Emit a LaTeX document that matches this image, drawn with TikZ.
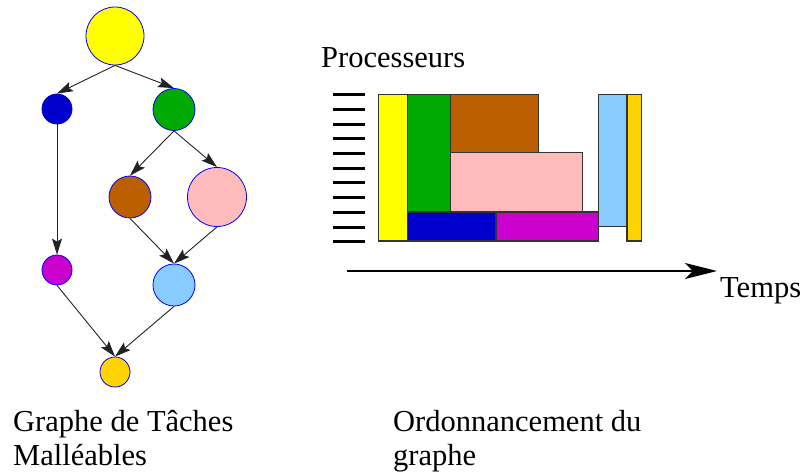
\documentclass[tikz,border=0pt]{standalone}
\usepackage{fontspec}
\setmainfont{Liberation Serif}
\usetikzlibrary{arrows.meta}
\definecolor{cYellow}{HTML}{FFFF00}
\definecolor{cBlue}{HTML}{0000CC}
\definecolor{cGreen}{HTML}{00AA00}
\definecolor{cBrown}{HTML}{BB5F00}
\definecolor{cPink}{HTML}{FFBBBB}
\definecolor{cMagenta}{HTML}{CC00CC}
\definecolor{cSky}{HTML}{88CCFF}
\definecolor{cGold}{HTML}{FFD300}
\definecolor{cEdge}{HTML}{222222}
\tikzset{
  task/.style={circle, draw=blue, line width=0.8pt, inner sep=0pt, minimum size=#1},
  dep/.style={draw=cEdge, line width=0.9pt,
    -{Stealth[length=16pt, width=10pt, inset=3pt]}},
  slot/.style={draw=black!80, line width=1.3pt},
  proc/.style={line width=3pt, black},
  axis/.style={line width=2.5pt, -{Stealth[length=32pt, width=16pt, inset=8pt]}},
  lbl/.style={font=\fontsize{30.5}{34}\selectfont, inner sep=0pt, anchor=base west, align=left}
}
\begin{document}
\begin{tikzpicture}[x=1pt, y=-1pt]
\useasboundingbox (0,0) rectangle (803,476);

% --- task graph ---
\node[task=58pt, fill=cYellow]  (ty) at (115,36)  {};
\node[task=30pt, fill=cBlue, draw=cBlue] (tb) at (57,109) {};
\node[task=42pt, fill=cGreen]   (tg) at (174,109.5) {};
\node[task=42pt, fill=cBrown]   (tr) at (130,197) {};
\node[task=59pt, fill=cPink]    (tp) at (217,197) {};
\node[task=30pt, fill=cMagenta] (tm) at (57,270) {};
\node[task=42pt, fill=cSky]     (ts) at (174,285) {};
\node[task=30pt, fill=cGold]    (to) at (115,372) {};

\draw[dep] (ty.south) -- (tb.north);
\draw[dep] (ty.south) -- (tg.north);
\draw[dep] (tb.south) -- (tm.north);
\draw[dep] (tg.south) -- (tr.north);
\draw[dep] (tg.south) -- (tp.north);
\draw[dep] (tr.south) -- (ts.north);
\draw[dep] (tp.south) -- (ts.north);
\draw[dep] (tm.south) -- (to.north);
\draw[dep] (ts.south) -- (to.north);

% --- processor ticks ---
\foreach \i in {0,...,10}
  \draw[proc] (333,94.7+14.7*\i) -- (365,94.7+14.7*\i);

% --- schedule ---
\draw[slot, fill=cYellow]  (378.7,94.7) rectangle (407.3,241);
\draw[slot, fill=cGreen]   (407.3,94.7) rectangle (450.7,212);
\draw[slot, fill=cBrown]   (450.7,94.7) rectangle (538.7,152.3);
\draw[slot, fill=cPink]    (450.7,152.3) rectangle (582.3,212);
\draw[slot, fill=cBlue]    (407.3,212) rectangle (496,241);
\draw[slot, fill=cMagenta] (496,212) rectangle (598.3,241);
\draw[slot, fill=cSky]     (598.3,94.7) rectangle (627,226.3);
\draw[slot, fill=cGold]    (627,94.7) rectangle (641.7,241);

% --- time axis ---
\coordinate (t0) at (347,271);
\coordinate (t1) at (717,271);
\draw[axis] (t0) -- (t1);

% --- labels (base anchor sits on the last line) ---
\node[lbl] (lproc) at (321,68) {Processeurs};
\node[lbl] (ltime) at (720,297) {Temps};
\node[lbl] (lgraph) at (13,465) {Graphe de Tâches\\Malléables};
\node[lbl] (lsched) at (393,465) {Ordonnancement du\\graphe};
\end{tikzpicture}
\end{document}
